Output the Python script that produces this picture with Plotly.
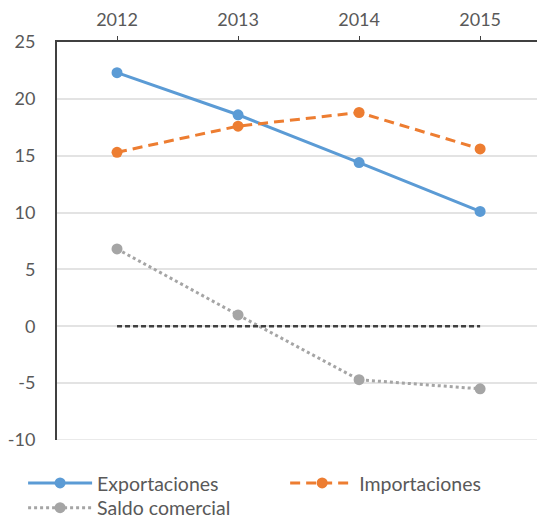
import plotly.graph_objects as go

years = ["2012", "2013", "2014", "2015"]
exportaciones = [22.3, 18.6, 14.4, 10.1]
importaciones = [15.3, 17.6, 18.8, 15.6]
saldo = [6.8, 1.0, -4.7, -5.5]
cero = [0, 0, 0, 0]
y_ticks = [25, 20, 15, 10, 5, 0, -5, -10]
y_tick_labels = ["25", "20", "15", "10", "5", "0", "-5", "-10"]

FONT = "Lato, Carlito, 'Open Sans', sans-serif"
TXT = "#595959"
fig = go.Figure()
fig.add_trace(go.Scatter(
    x=years, y=exportaciones, name="Exportaciones", mode="lines+markers",
    line=dict(color="#5B9BD5", width=3), marker=dict(size=11, color="#5B9BD5"),
    legend="legend"))
fig.add_trace(go.Scatter(
    x=years, y=importaciones, name="Importaciones", mode="lines+markers",
    line=dict(color="#ED7D31", width=3, dash="10px,6px"), marker=dict(size=11, color="#ED7D31"),
    legend="legend2"))
fig.add_trace(go.Scatter(
    x=years, y=saldo, name="Saldo comercial", mode="lines+markers",
    line=dict(color="#A5A5A5", width=3, dash="dot"), marker=dict(size=11, color="#A5A5A5"),
    legend="legend3"))
fig.add_trace(go.Scatter(
    x=years, y=cero, mode="lines", showlegend=False, hoverinfo="skip",
    line=dict(color="#404040", width=2.5, dash="5px,3px")))

leg_common = dict(xref="container", yref="container", xanchor="left", yanchor="middle",
                  itemwidth=64, font=dict(size=19.5, color=TXT, family=FONT),
                  bgcolor="rgba(0,0,0,0)", borderwidth=0)

fig.update_layout(
    width=537, height=527,
    margin=dict(l=57, r=0, t=42, b=87, autoexpand=False),
    paper_bgcolor="white", plot_bgcolor="white",
    font=dict(family=FONT, size=18, color=TXT),
    legend=dict(x=0.043, y=0.083, **leg_common),
    legend2=dict(x=0.531, y=0.083, **leg_common),
    legend3=dict(x=0.043, y=0.036, **leg_common),
    xaxis=dict(side="top", type="category", range=[-0.496, 3.47],
               showline=True, linecolor="#404040", linewidth=2,
               ticks="outside", ticklen=4, tickcolor="#404040",
               showgrid=False, ticklabelstandoff=3, zeroline=False,
               automargin=False),
    yaxis=dict(range=[-10, 25], tickvals=y_ticks, ticktext=y_tick_labels,
               showline=True, linecolor="#404040", linewidth=2, showgrid=True,
               gridcolor="#E3E3E3", gridwidth=1.5, zeroline=False,
               ticks="", ticklabelstandoff=16, automargin=False),
)
fig.add_shape(type="line", xref="paper", yref="y", x0=0, x1=1, y0=-10, y1=-10,
              line=dict(color="#E3E3E3", width=1.5), layer="below")

fig.write_html(
    "out.html",
    config={"displayModeBar": False},
    post_script="document.body.style.margin='0';document.body.style.overflow='hidden';"
                "document.documentElement.style.overflow='hidden';",
)
